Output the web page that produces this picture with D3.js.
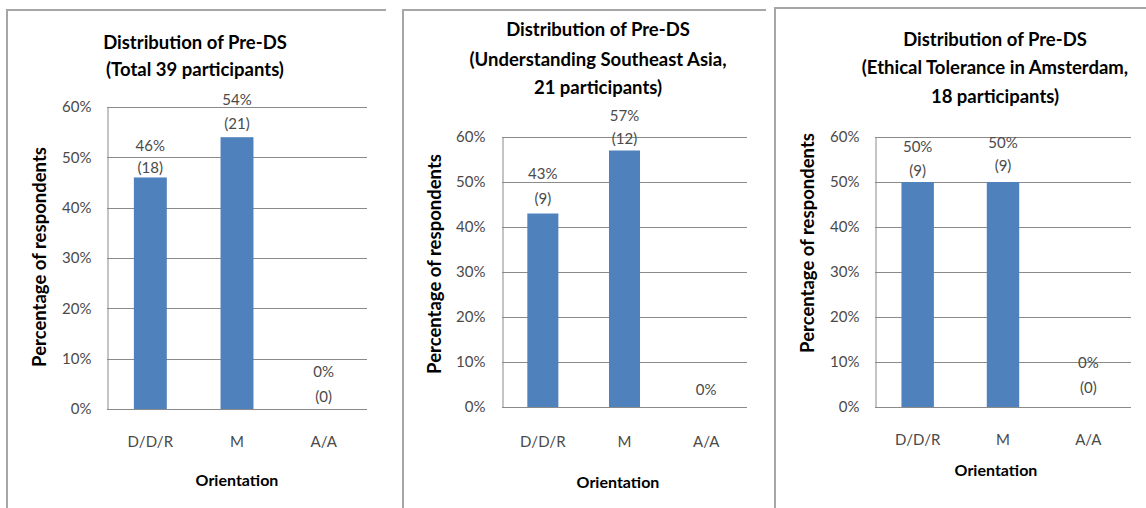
<!DOCTYPE html>
<html>
<head>
<meta charset="utf-8">
<script src="https://cdn.jsdelivr.net/npm/d3@7"></script>
<style>
  html, body { margin: 0; padding: 0; background: #fff; }
  svg { display: block; }
  text { font-family: Lato, "Open Sans", sans-serif; }
</style>
</head>
<body>
<svg id="chart" width="1146" height="508"></svg>
<script>
// Orientation categories shared by all three charts
const categories = ["D/D/R", "M", "A/A"];

// Percentage of respondents and respondent counts per group
const totalPct = [46, 54, 0];
const totalCount = [18, 21, 0];

const seaPct = [43, 57, 0];
const seaCount = [9, 12, null];   // A/A carries only a percentage label

const amsPct = [50, 50, 0];
const amsCount = [9, 9, 0];

// Value-axis ticks (percent)
const yTicks = [0, 10, 20, 30, 40, 50, 60];

// Chart titles
const totalTitle = ["Distribution of Pre-DS", "(Total 39 participants)"];
const seaTitle = ["Distribution of Pre-DS", "(Understanding Southeast Asia,", "21 participants)"];
const amsTitle = ["Distribution of Pre-DS", "(Ethical Tolerance in Amsterdam,", "18 participants)"];

const yAxisTitle = "Percentage of respondents";
const xAxisTitle = "Orientation";

const BAR = "#4F81BD";
const GRID = "#8a8a8a";
const FRAME = "#a6a6a6";
const TEXT = "#4a4a4a";

const svg = d3.select("#chart");

function drawPanel(cfg) {
  const g = svg.append("g");

  // outer chart frame (top and left edges)
  g.append("path")
    .attr("d", `M${cfg.frame.left},508 V${cfg.frame.top} H${cfg.frame.right}`)
    .attr("fill", "none").attr("stroke", FRAME).attr("stroke-width", 2);

  const x = d3.scaleBand()
    .domain(categories)
    .range([cfg.plot.x0, cfg.plot.x1])
    .paddingInner(0.62)
    .paddingOuter(0.31);

  const y = d3.scaleLinear()
    .domain([0, 60])
    .range([cfg.plot.base, cfg.plot.top]);

  // horizontal gridlines
  g.append("g").selectAll("line")
    .data(yTicks)
    .join("line")
    .attr("x1", cfg.plot.x0).attr("x2", cfg.plot.x1)
    .attr("y1", d => Math.round(y(d)) + 0.5).attr("y2", d => Math.round(y(d)) + 0.5)
    .attr("stroke", GRID).attr("stroke-width", 1);

  // value axis
  const yAxis = d3.axisLeft(y)
    .tickValues(yTicks)
    .tickSize(0)
    .tickPadding(cfg.plot.x0 - cfg.tickRight)
    .tickFormat(d => d + "%");
  const ya = g.append("g")
    .attr("transform", `translate(${cfg.plot.x0 + 0.5},0)`)
    .call(yAxis);
  ya.select(".domain").attr("stroke", GRID);
  ya.selectAll("text")
    .attr("fill", TEXT)
    .style("font-size", "15px");

  // category axis labels
  const xAxis = d3.axisBottom(x).tickSize(0).tickPadding(0);
  const xa = g.append("g")
    .attr("transform", `translate(0,${cfg.xTickY})`)
    .call(xAxis);
  xa.select(".domain").remove();
  xa.selectAll("text")
    .attr("dy", "0.35em")
    .attr("fill", TEXT)
    .style("font-size", "15px");

  // bars
  g.append("g").selectAll("rect")
    .data(cfg.pct)
    .join("rect")
    .attr("x", (d, i) => x(categories[i]))
    .attr("width", x.bandwidth())
    .attr("y", d => y(d))
    .attr("height", d => y(0) - y(d))
    .attr("fill", BAR);

  // data labels: percentage above count
  const lab = g.append("g")
    .attr("fill", TEXT)
    .attr("text-anchor", "middle")
    .style("font-size", "15px");
  cfg.pct.forEach((v, i) => {
    const cx = x(categories[i]) + x.bandwidth() / 2;
    const top = y(v);
    const c = cfg.count[i];
    const off = cfg.labelOffsets[i];
    if (c === null) {
      lab.append("text").attr("x", cx).attr("y", top - off[1]).attr("dy", "0.35em").text(v + "%");
    } else {
      lab.append("text").attr("x", cx).attr("y", top - off[0]).attr("dy", "0.35em").text(v + "%");
      lab.append("text").attr("x", cx).attr("y", top - off[1]).attr("dy", "0.35em").text("(" + c + ")");
    }
  });

  // title
  g.append("g").selectAll("text")
    .data(cfg.title)
    .join("text")
    .attr("x", cfg.titleX)
    .attr("y", (d, i) => cfg.titleY[i])
    .attr("dy", "0.35em")
    .attr("text-anchor", "middle")
    .attr("fill", "#000")
    .style("font-size", "18.5px")
    .style("font-weight", "bold")
    .text(d => d);

  // axis titles
  g.append("text")
    .attr("transform", `translate(${cfg.yTitle[0]},${cfg.yTitle[1]}) rotate(-90)`)
    .attr("dy", "0.35em")
    .attr("text-anchor", "middle")
    .style("font-size", "18.5px")
    .style("font-weight", "bold")
    .text(yAxisTitle);

  g.append("text")
    .attr("x", cfg.xTitle[0]).attr("y", cfg.xTitle[1])
    .attr("dy", "0.35em")
    .attr("text-anchor", "middle")
    .style("font-size", "16px")
    .style("font-weight", "bold")
    .text(xAxisTitle);
}

drawPanel({
  frame: { left: 7, top: 10, right: 386 },
  plot: { x0: 107, x1: 367, top: 107, base: 409 },
  tickRight: 91,
  xTickY: 442,
  title: totalTitle, titleX: 195, titleY: [43, 70],
  yTitle: [40, 257], xTitle: [237, 480],
  labelOffsets: [[32, 10], [37, 13], [37, 12]],
  pct: totalPct, count: totalCount
});

drawPanel({
  frame: { left: 403, top: 10, right: 766 },
  plot: { x0: 502, x1: 747, top: 137, base: 407 },
  tickRight: 485,
  xTickY: 442,
  title: seaTitle, titleX: 598, titleY: [30, 60, 88],
  yTitle: [435, 264], xTitle: [618, 482],
  labelOffsets: [[40, 15], [35, 12], [40, 17]],
  pct: seaPct, count: seaCount
});

drawPanel({
  frame: { left: 775, top: 8, right: 1146 },
  plot: { x0: 875, x1: 1131, top: 137, base: 407 },
  tickRight: 859,
  xTickY: 440,
  title: amsTitle, titleX: 995, titleY: [40, 68, 97],
  yTitle: [808, 243], xTitle: [996, 470],
  labelOffsets: [[35, 11], [39, 16], [44, 19]],
  pct: amsPct, count: amsCount
});
</script>
</body>
</html>
